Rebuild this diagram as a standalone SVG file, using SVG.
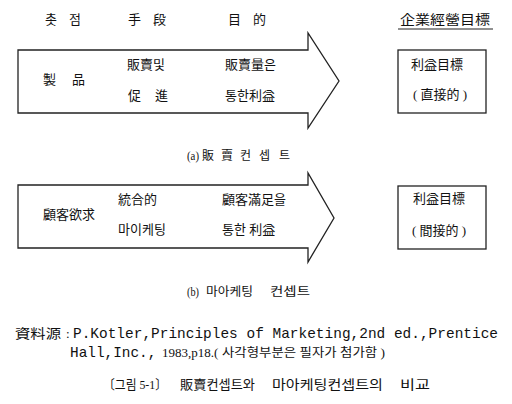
<svg xmlns="http://www.w3.org/2000/svg" width="512" height="404" viewBox="0 0 512 404">
<style>
.k{font-family:"Liberation Serif","Noto Sans CJK KR",serif;font-size:13px;fill:#111}
.c{font-family:"Liberation Serif","Noto Sans CJK KR",serif;font-size:12px;fill:#111}
.m{font-family:"Liberation Mono","Noto Sans CJK KR",monospace;font-size:14.4px;fill:#111}
.s{fill:#fff;stroke:#222;stroke-width:1.3}
</style>
<rect width="512" height="404" fill="#fff"/>
<g id="headers">
<text class="k" x="45" y="24">촛</text>
<text class="k" x="69" y="24">점</text>
<text class="k" x="128" y="24">手</text>
<text class="k" x="153" y="24">段</text>
<text class="k" x="228" y="24">目</text>
<text class="k" x="253" y="24">的</text>
<text class="k" x="400" y="24" textLength="90" lengthAdjust="spacingAndGlyphs">企業經營目標</text>
<line x1="398" y1="29" x2="493" y2="29" stroke="#222" stroke-width="1.2"/>
</g>
<g id="connectors">
<polygon id="arrow-a" class="s" points="18,50 308,50 308,33 339,81 308,128 308,113 18,113"/>
<polygon id="arrow-b" class="s" points="18,185 308,185 308,173 334,218 308,262 308,248 18,248"/>
</g>
<g id="arrow-a-text">
<text class="k" x="43" y="84">製</text>
<text class="k" x="72" y="84">品</text>
<text class="k" x="127" y="69">販賣및</text>
<text class="k" x="128" y="100">促</text>
<text class="k" x="155" y="100">進</text>
<text class="k" x="225" y="69">販賣量은</text>
<text class="k" x="225" y="100">통한利益</text>
</g>
<g id="goal-a">
<rect class="s" x="398" y="50" width="88" height="63"/>
<text class="k" x="411" y="69">利益目標</text>
<text class="k" x="413" y="99">( 直接的 )</text>
</g>
<g id="caption-a">
<text class="c" x="187" y="160" textLength="12" lengthAdjust="spacingAndGlyphs">(a)</text>
<text class="c" x="202" y="160">販</text>
<text class="c" x="221" y="160">賣</text>
<text class="c" x="240" y="160">컨</text>
<text class="c" x="259" y="160">셉</text>
<text class="c" x="279" y="160">트</text>
</g>
<g id="arrow-b-text">
<text class="k" x="43" y="219">顧客欲求</text>
<text class="k" x="118" y="204">統合的</text>
<text class="k" x="118" y="234">마이케팅</text>
<text class="k" x="222" y="204">顧客滿足을</text>
<text class="k" x="222" y="234">통한 利益</text>
</g>
<g id="goal-b">
<rect class="s" x="398" y="186" width="88" height="63"/>
<text class="k" x="413" y="203">利益目標</text>
<text class="k" x="412" y="235">( 間接的 )</text>
</g>
<g id="caption-b">
<text class="c" x="187" y="296" textLength="12" lengthAdjust="spacingAndGlyphs">(b)</text>
<text class="c" x="206" y="296" textLength="47" lengthAdjust="spacingAndGlyphs">마아케팅</text>
<text class="c" x="270" y="296" textLength="40" lengthAdjust="spacingAndGlyphs">컨셉트</text>
</g>
<g id="source">
<text class="k" x="15" y="338" textLength="46" lengthAdjust="spacingAndGlyphs">資料源</text>
<text class="k" x="66" y="338">:</text>
<text class="m" x="73" y="338" textLength="425" lengthAdjust="spacingAndGlyphs">P.Kotler,Principles of Marketing,2nd ed.,Prentice</text>
<text class="m" x="70" y="357">Hall,Inc.,</text>
<text class="k" x="162" y="357">1983,p18.(</text>
<text class="c" x="222" y="357" font-size="11.5" textLength="163" lengthAdjust="spacingAndGlyphs">사각형부분은  필자가  첨가함 )</text>
</g>
<g id="figure-title">
<text class="k" x="103" y="389" textLength="64" lengthAdjust="spacingAndGlyphs">〔그림 5-1〕</text>
<text class="k" x="180" y="389" textLength="75" lengthAdjust="spacingAndGlyphs">販賣컨셉트와</text>
<text class="k" x="272" y="389" textLength="111" lengthAdjust="spacingAndGlyphs">마아케팅컨셉트의</text>
<text class="k" x="400" y="389" textLength="30" lengthAdjust="spacingAndGlyphs">비교</text>
</g>
</svg>
